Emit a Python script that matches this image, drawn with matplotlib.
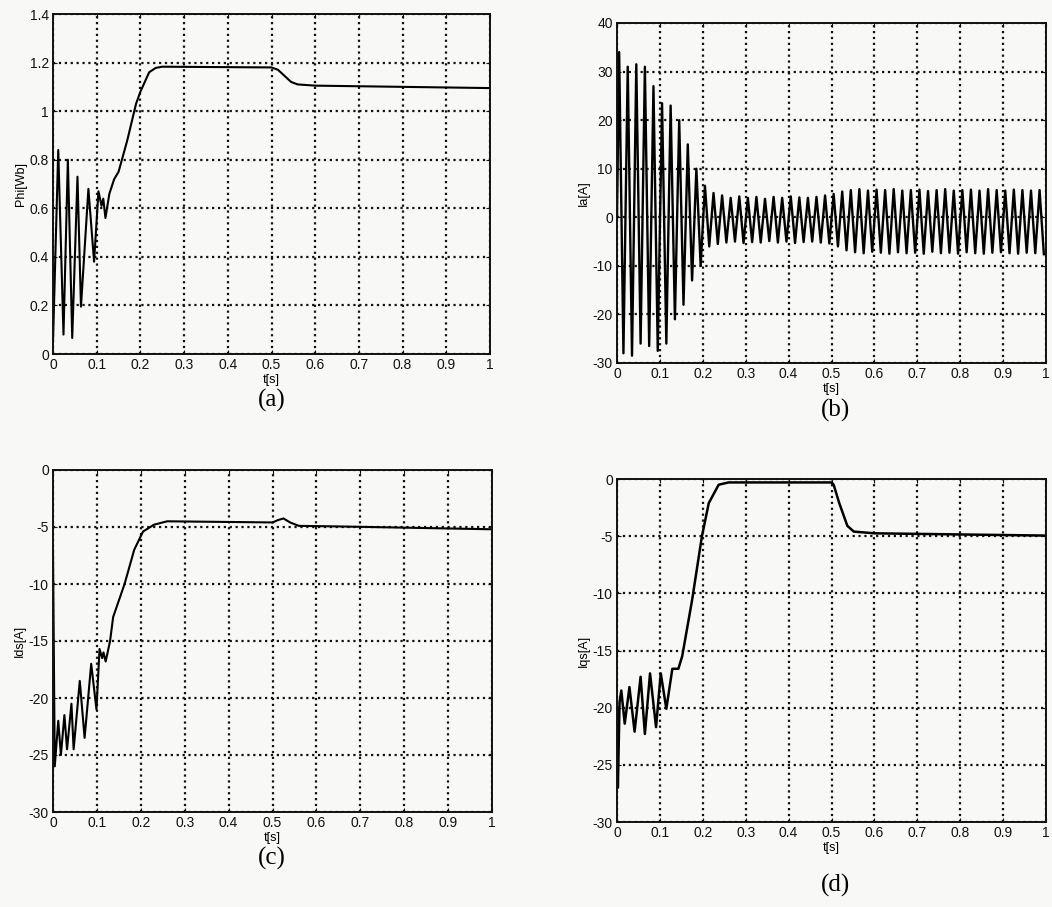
import numpy as np
import matplotlib
matplotlib.use("Agg")
import matplotlib.pyplot as plt

# (a) stator flux magnitude
phi_t = [0, 0.012, 0.024, 0.034, 0.044, 0.056, 0.064, 0.081, 0.094, 0.104,
         0.111, 0.115, 0.12, 0.129, 0.14, 0.15, 0.17, 0.19, 0.2, 0.22,
         0.235, 0.25, 0.5, 0.515, 0.53, 0.545, 0.56, 0.6, 1.0]
phi = [0.05, 0.84, 0.08, 0.80, 0.066, 0.73, 0.195, 0.68, 0.38, 0.67,
       0.61, 0.64, 0.56, 0.66, 0.72, 0.75, 0.88, 1.03, 1.08, 1.16,
       1.178, 1.183, 1.18, 1.17, 1.145, 1.12, 1.11, 1.105, 1.095]

# (b) phase current, one peak and one trough per 50 Hz cycle
ia_period = 0.02
ia_peak = [34, 31, 31.5, 31, 27, 23.5, 23, 20, 15, 10,
           6.5, 5, 4.5, 4, 4.3, 4, 4.2, 3.8, 4.2, 4, 4.3, 4.1, 4, 4.2, 4.5,
           4.8, 5.3, 5.6, 5.8, 5.5, 5.7, 5.6, 5.8, 5.5, 5.6, 5.7, 5.4, 5.6,
           5.8, 5.5, 5.6, 5.7, 5.5, 5.8, 5.6, 5.5, 5.7, 5.6, 5.5, 5.6]
ia_trough = [-28, -28.5, -26, -26.5, -27.5, -26, -21, -18, -13, -10,
             -6, -5.5, -5.2, -5, -5.3, -5.1, -5.2, -4.9, -5.2, -5, -5.3,
             -5.1, -5, -5.2, -5.4,
             -6, -6.8, -7.2, -7.4, -7.1, -7.3, -7.5, -7.2, -7.4, -7.3, -7.5,
             -7.1, -7.4, -7.3, -7.5, -7.2, -7.4, -7.5, -7.3, -7.2, -7.4,
             -7.5, -7.3, -7.4, -7.6]

# (c) d-axis current
ids_t = [0, 0.004, 0.012, 0.018, 0.026, 0.032, 0.042, 0.047, 0.061, 0.072,
         0.087, 0.099, 0.106, 0.112, 0.115, 0.12, 0.13, 0.137, 0.163, 0.185,
         0.205, 0.23, 0.26, 0.5, 0.512, 0.525, 0.54, 0.56, 0.65, 1.0]
ids = [-7, -26, -22, -25, -21.5, -24.5, -20.5, -24.5, -18.5, -23.5,
       -17, -21, -15.7, -16.5, -16, -16.8, -15, -12.9, -10, -7,
       -5.4, -4.8, -4.5, -4.6, -4.4, -4.25, -4.6, -4.9, -4.95, -5.2]

# (d) q-axis current
iqs_t = [0, 0.002, 0.006, 0.01, 0.018, 0.029, 0.041, 0.055, 0.065, 0.077,
         0.091, 0.102, 0.115, 0.129, 0.143, 0.152, 0.175, 0.198, 0.214, 0.237,
         0.26, 0.5, 0.505, 0.518, 0.537, 0.552, 0.6, 1.0]
iqs = [-20, -27, -19.5, -18.5, -21.4, -18.2, -22.1, -17.3, -22.3, -17,
       -21.7, -17, -20.1, -16.6, -16.6, -15.5, -10.6, -5, -2.1, -0.5,
       -0.3, -0.3, -0.5, -2.1, -4.1, -4.6, -4.75, -4.95]

xticks = [0, 0.1, 0.2, 0.3, 0.4, 0.5, 0.6, 0.7, 0.8, 0.9, 1]
xticklabels = ['0', '0.1', '0.2', '0.3', '0.4', '0.5', '0.6', '0.7', '0.8', '0.9', '1']

paper = '#f8f8f6'
plt.rcParams['font.family'] = ['Liberation Sans', 'DejaVu Sans']

fig = plt.figure(figsize=(10.52, 9.07), dpi=100, facecolor=paper)

W, H = 1052.0, 907.0
def box(x0, y0, x1, y1):
    return [x0 / W, 1 - y1 / H, (x1 - x0) / W, (y1 - y0) / H]

ax_a = fig.add_axes(box(53, 14, 490, 354))
ax_b = fig.add_axes(box(617, 23, 1046, 363))
ax_c = fig.add_axes(box(53, 470, 492, 812))
ax_d = fig.add_axes(box(617, 479, 1046, 822))

# interleave peaks and troughs of the phase current
ia_t = [0.0]
ia = [0.0]
for k in range(len(ia_peak)):
    ia_t += [k * ia_period + 0.005, k * ia_period + 0.015]
    ia += [ia_peak[k], ia_trough[k]]

ax_a.plot(phi_t, phi, '-k', linewidth=1.5)
ax_b.plot(ia_t, ia, '-k', linewidth=1.7)
ax_c.plot(ids_t, ids, '-k', linewidth=1.5)
ax_d.plot(iqs_t, iqs, '-k', linewidth=1.8)

setup = [
    (ax_a, 'Phi[Wb]', (0, 1.4), [0, 0.2, 0.4, 0.6, 0.8, 1, 1.2, 1.4],
     ['0', '0.2', '0.4', '0.6', '0.8', '1', '1.2', '1.4']),
    (ax_b, 'Ia[A]', (-30, 40), [-30, -20, -10, 0, 10, 20, 30, 40],
     ['-30', '-20', '-10', '0', '10', '20', '30', '40']),
    (ax_c, 'Ids[A]', (-30, 0), [-30, -25, -20, -15, -10, -5, 0],
     ['-30', '-25', '-20', '-15', '-10', '-5', '0']),
    (ax_d, 'Iqs[A]', (-30, 0), [-30, -25, -20, -15, -10, -5, 0],
     ['-30', '-25', '-20', '-15', '-10', '-5', '0']),
]

for ax, ylab, ylim, yt, ytl in setup:
    ax.set_facecolor(paper)
    ax.set_xlim(0, 1)
    ax.set_ylim(*ylim)
    ax.set_xticks(xticks)
    ax.set_xticklabels(xticklabels)
    ax.set_yticks(yt)
    ax.set_yticklabels(ytl)
    ax.tick_params(direction='in', length=3, labelsize=10, pad=3,
                   top=True, right=True, colors='#111111')
    ax.grid(True, linestyle=':', color='#111111', linewidth=1.6)
    for s in ax.spines.values():
        s.set_linewidth(1.4)
        s.set_color('#111111')
    ax.set_xlabel('t[s]', fontsize=9, labelpad=1)
    ax.set_ylabel(ylab, fontsize=9, labelpad=2)

# panel captions
for x, y, lab in [(272, 400, '(a)'), (835, 410, '(b)'),
                  (272, 858, '(c)'), (835, 885, '(d)')]:
    fig.text(x / W, 1 - y / H, lab, ha='center', va='center',
             fontsize=18, family=['Liberation Serif', 'DejaVu Serif'])

fig.savefig('out.png', dpi=100, facecolor=paper)
